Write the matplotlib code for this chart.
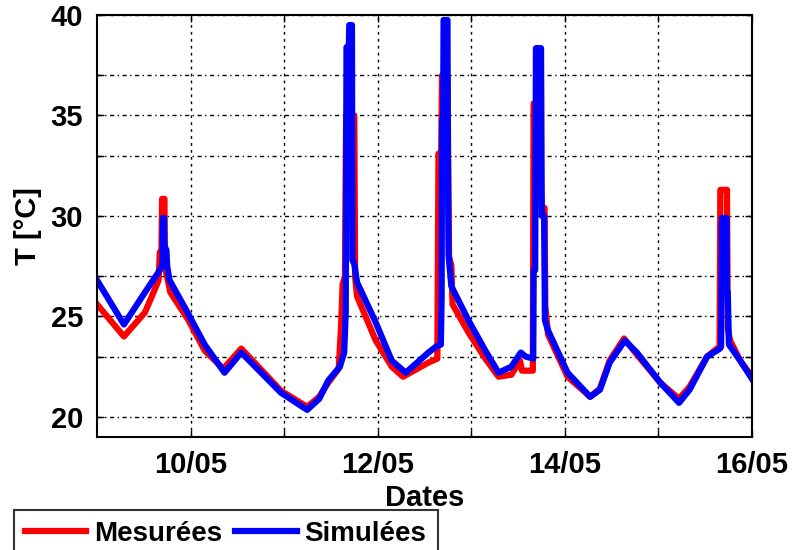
import numpy as np
import pandas as pd
import matplotlib
matplotlib.use('Agg')
import matplotlib.pyplot as plt
from matplotlib.ticker import FixedLocator, FixedFormatter

plt.rcParams['font.family'] = ['Liberation Sans', 'DejaVu Sans']
plt.rcParams['font.weight'] = 'bold'

start = pd.Timestamp('2014-05-09 00:00')

# simulated temperature (hours after 09/05 00:00, degC)
sim_hours = [0, 6.9, 12.3, 16.1, 16.8, 16.9, 17.2, 17.3, 17.8, 18.0, 18.6, 23.2, 27.6,
             32.7, 37.0, 47.2, 53.9, 57.0, 59.3, 62.3, 63.4, 63.8, 64.0, 64.6, 64.7,
             65.4, 65.5, 66.0, 66.7, 71.5, 75.6, 79.2, 85.0, 87.0, 88.2, 88.4, 88.5,
             88.8, 88.9, 89.9, 90.0, 90.2, 90.9, 95.3, 99.6, 103.0, 106.3, 108.7, 110.0,
             111.9, 112.0, 112.4, 112.6, 113.9, 114.1, 114.7, 114.9, 115.7, 120.7, 126.5,
             129.0, 131.5, 135.4, 138.5, 144.5, 149.3, 152.0, 156.5, 159.8, 160.1, 160.3,
             161.5, 161.6, 161.8, 162.1, 165.0, 168.0]
sim_temp = [26.8, 24.6, 26.2, 27.3, 27.6, 29.9, 29.9, 28.5, 28.3, 27.5, 26.8, 25.2, 23.6,
            22.2, 23.2, 21.2, 20.35, 20.9, 21.8, 22.5, 23.2, 25.2, 38.4, 38.4, 39.5,
            39.5, 27.8, 27.6, 26.7, 24.7, 22.8, 22.2, 23.2, 23.5, 23.6, 26.0, 34.8,
            34.8, 39.75, 39.75, 33.0, 28.0, 26.5, 24.8, 23.3, 22.2, 22.5, 23.2, 23.0,
            22.9, 27.3, 27.3, 38.35, 38.35, 30.0, 30.0, 24.8, 24.3, 22.2, 21.0,
            21.35, 22.7, 23.8, 23.2, 21.7, 20.7, 21.35, 23.0, 23.4, 23.5, 29.9,
            29.9, 26.2, 26.2, 23.6, 22.8, 21.9]

# measured temperature
mes_hours = [0, 6.9, 12.3, 15.8, 16.1, 16.5, 16.7, 17.3, 17.4, 18.8, 23.5, 27.6, 32.4,
             37.0, 47.2, 53.9, 57.0, 59.3, 62.0, 62.6, 63.0, 63.6, 63.9, 66.0, 66.2,
             66.7, 71.5, 75.6, 78.5, 85.0, 87.3, 87.6, 88.3, 88.5, 89.9, 90.3, 90.9,
             91.2, 95.3, 99.6, 103.0, 106.3, 108.5, 109.0, 111.8, 112.0, 112.6, 114.1,
             114.8, 115.0, 115.7, 120.7, 126.5, 129.0, 131.5, 135.2, 138.5, 144.5, 149.3,
             152.0, 156.5, 159.7, 159.9, 161.6, 161.8, 162.4, 165.0, 168.0]
mes_temp = [25.6, 24.0, 25.2, 26.8, 28.2, 28.0, 30.85, 30.85, 27.5, 26.2, 24.8, 23.3, 22.4,
            23.4, 21.3, 20.5, 21.0, 21.7, 22.4, 24.5, 26.6, 27.0, 35.0, 35.0, 27.0,
            26.0, 23.8, 22.5, 22.0, 22.7, 22.9, 33.1, 33.1, 37.0, 37.0, 28.0, 27.5,
            25.6, 24.2, 22.9, 22.0, 22.1, 22.8, 22.3, 22.3, 35.6, 35.6, 30.4,
            30.4, 25.5, 24.1, 22.0, 21.0, 21.4, 22.8, 23.9, 23.1, 21.7, 20.9,
            21.5, 23.0, 23.5, 31.3, 31.3, 24.4, 23.8, 22.8, 22.0]

day_ticks = ['10/05', '', '12/05', '', '14/05', '', '16/05']
y_ticks = [20, 23, 25, 27, 30, 33, 35, 37, 40]
y_labels = ['20', '', '25', '', '30', '', '35', '', '40']

t_sim = start + pd.to_timedelta(sim_hours, unit='h')
t_mes = start + pd.to_timedelta(mes_hours, unit='h')

fig = plt.figure(figsize=(7.94, 5.5), dpi=100)
ax = fig.add_axes([0.1222, 0.2055, 0.8248, 0.7672])

l1, = ax.plot(t_mes, mes_temp, color='#ff0000', lw=4.5, label='Mesurées')
l2, = ax.plot(t_sim, sim_temp, color='#0000ff', lw=4.5, label='Simulées')

ax.set_xlim(start, start + pd.Timedelta(days=7))
ax.set_ylim(19, 40)

xt = [start + pd.Timedelta(days=i) for i in range(1, 8)]
ax.set_xticks(xt)
ax.set_xticklabels(day_ticks)
ax.yaxis.set_major_locator(FixedLocator(y_ticks))
ax.yaxis.set_major_formatter(FixedFormatter(y_labels))

ax.tick_params(direction='in', length=5, width=1, labelsize=21, pad=10,
               top=True, right=True)
for s in ax.spines.values():
    s.set_linewidth(1.5)

ax.xaxis.grid(True, color='black', lw=1, linestyle=(0, (2, 3)))
ax.yaxis.grid(True, color='black', lw=1, linestyle=(0, (3, 2.5, 1, 2.5)))
ax.set_axisbelow(True)

ax.set_xlabel('Dates', fontsize=21, fontweight='bold', labelpad=4)
ax.set_ylabel('T [°C]', fontsize=21, fontweight='bold', labelpad=6)

leg = fig.legend(handles=[l1, l2], loc='upper left', bbox_to_anchor=(0.0176, 0.0727),
                 ncol=2, fontsize=20, frameon=True, fancybox=False, edgecolor='black',
                 handlelength=2.2, handletextpad=0.29, columnspacing=0.47,
                 borderpad=0.4, borderaxespad=0)
leg.get_frame().set_linewidth(1.5)

fig.savefig('out.png', dpi=100)
